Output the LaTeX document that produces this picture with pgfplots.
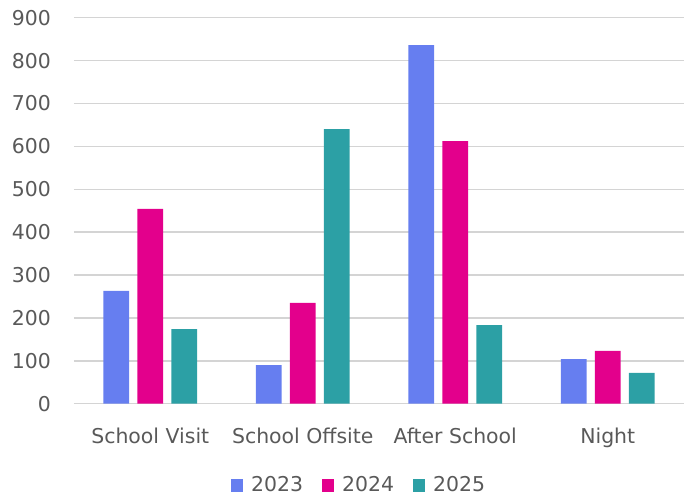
\documentclass[border=0pt]{standalone}
\usepackage{fontspec}
\setmainfont{DejaVu Sans}
\usepackage{pgfplots}
\pgfplotsset{compat=1.18}
\definecolor{c23}{RGB}{102,126,240}
\definecolor{c24}{RGB}{227,0,140}
\definecolor{c25}{RGB}{44,160,165}
\definecolor{txt}{RGB}{89,89,89}
\definecolor{gridc}{RGB}{212,212,212}
\begin{document}
\begin{tikzpicture}
\begin{axis}[
 scale only axis, width=610bp, height=386bp,
 xmin=-0.5, xmax=3.5, ymin=0, ymax=900,
 ytick={0,100,...,900},
 xtick={0,1,2,3},
 xticklabels={School Visit, School Offsite, After School, Night},
 axis line style={draw=none},
 major tick length=0pt,
 ymajorgrids, grid style={gridc, line width=1.5bp},
 font=\fontsize{20.5}{24}\selectfont,
 tick label style={text=txt},
 /pgf/number format/assume math mode=true,
 yticklabel style={anchor=east, inner sep=0pt, xshift=-23bp},
 xticklabel style={anchor=base, inner sep=0pt, yshift=-39.3bp},
 ybar, bar width=0.17,
 legend entries={2023,2024,2025},
 legend columns=3,
 legend cell align=left,
 legend image code/.code={\fill[#1] (0bp,-6.5bp) rectangle (12bp,6.5bp);},
 legend style={at={(0.467,-0.211)}, anchor=center, draw=none, fill=none,
   inner sep=0pt, font=\fontsize{20.5}{24}\selectfont, text=txt,
   /tikz/every odd column/.append style={column sep=6.5bp},
   /tikz/every even column/.append style={column sep=16.5bp}},
]
\addplot[fill=c23, draw=none, bar shift=-0.223] coordinates {(0,263) (1,90) (2,836) (3,104)};
\addplot[fill=c24, draw=none, bar shift=0] coordinates {(0,454) (1,235) (2,612) (3,123)};
\addplot[fill=c25, draw=none, bar shift=0.223] coordinates {(0,174) (1,640) (2,183) (3,72)};
\end{axis}
\pgfresetboundingbox
\path[use as bounding box] (-74bp,-93.3bp) rectangle (615bp,403.7bp);
\end{tikzpicture}
\end{document}
